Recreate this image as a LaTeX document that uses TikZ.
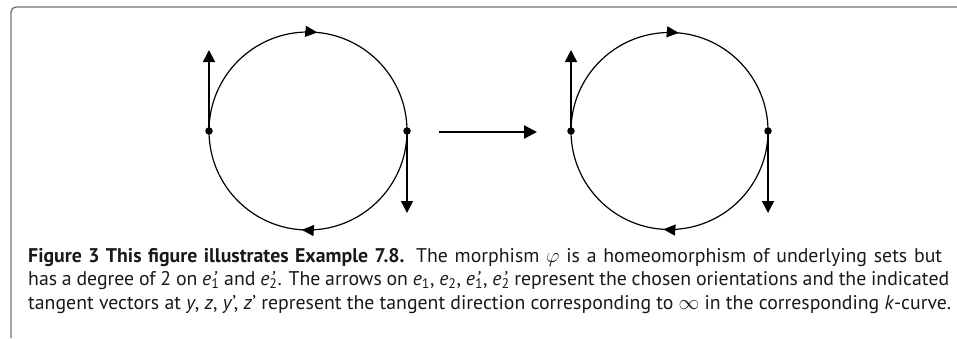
\documentclass[tikz,border=0pt]{standalone}
\usepackage{fontspec}
\setmainfont{PT Sans}
\usetikzlibrary{arrows.meta,decorations.markings}
\newcommand\pr{\rlap{\kern0.06em\textit{’}}}
\newcommand\ep[1]{\textit{e}\pr\textsubscript{#1}}
\newcommand\es[1]{\textit{e}\textsubscript{#1}}
\begin{document}
\begin{tikzpicture}[x=1pt,y=-1pt,
  dot/.style={circle,fill=black,inner sep=0pt,minimum size=7.5pt},
  ring/.style={line width=1.2pt,postaction={decorate},
    decoration={markings,
      mark=at position 0.265 with {\arrow{Triangle[length=12pt,width=11pt]}},
      mark=at position 0.76 with {\arrow{Triangle[length=12pt,width=11pt]}}}},
  vec/.style={line width=1.5pt,-{Triangle[length=12pt,width=12pt]}},
  bigarrow/.style={line width=2.2pt,-{Triangle[length=13pt,width=13pt]}},
  frame/.style={draw=black!55,line width=1.3pt,rounded corners=5pt},
  captionline/.style={anchor=base west,inner sep=0pt,text=black!90,font=\fontsize{19.8}{23.5}\selectfont}
]
\useasboundingbox (0,0) rectangle (957,338);
\draw[frame] (11,338) -- (11,7) -- (957,7);

% left circle
\node[dot] (y1) at (209,131) {};
\node[dot] (z1) at (407,131) {};
\draw[ring] (y1.center) arc[start angle=180,end angle=540,radius=99];
\coordinate (ty1) at (209,50);
\coordinate (tz1) at (407,213);
\draw[vec] (y1.center) -- (ty1);
\draw[vec] (z1.center) -- (tz1);

% right circle
\node[dot] (y2) at (571,131) {};
\node[dot] (z2) at (768,131) {};
\draw[ring] (y2.center) arc[start angle=180,end angle=540,radius=98.5];
\coordinate (ty2) at (571,50);
\coordinate (tz2) at (768,213);
\draw[vec] (y2.center) -- (ty2);
\draw[vec] (z2.center) -- (tz2);

% morphism arrow
\coordinate (ma) at (439,132);
\coordinate (mb) at (537,132);
\draw[bigarrow] (ma) -- (mb);

% caption
\node[captionline] (c1) at (28,262) {\makebox[914pt][s]{\textbf{Figure 3 This figure illustrates Example 7.8.} The morphism $\varphi$ is a homeomorphism of underlying sets but}};
\node[captionline] (c2) at (28,285.5) {\makebox[921pt][s]{has a degree of 2 on \ep1 and \ep2. The arrows on \es1, \es2, \ep1, \ep2 represent the chosen orientations and the indicated}};
\node[captionline] (c3) at (28,309) {\makebox[923pt][s]{tangent vectors at \textit{y}, \textit{z}, \textit{y}’, \textit{z}’ represent the tangent direction corresponding to $\infty$ in the corresponding \textit{k}-curve.}};
\end{tikzpicture}
\end{document}
